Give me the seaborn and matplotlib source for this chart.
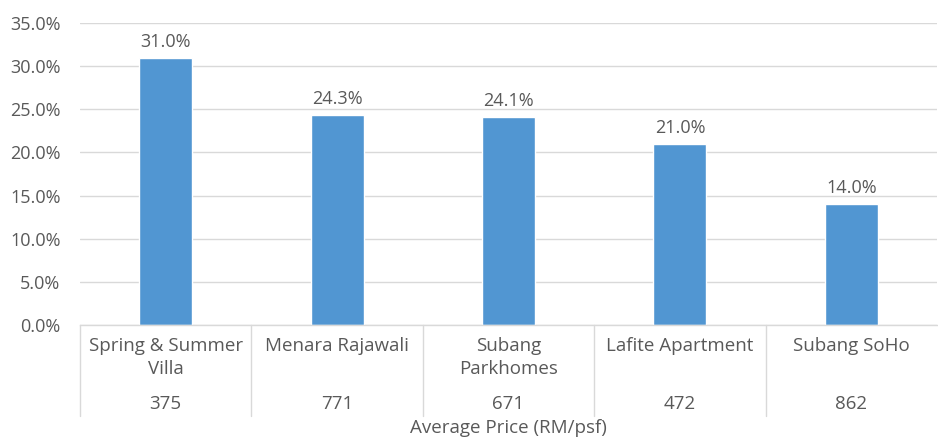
import matplotlib
matplotlib.use("Agg")
import matplotlib.pyplot as plt
import matplotlib.transforms as mtransforms
from matplotlib.ticker import FuncFormatter, MultipleLocator
import pandas as pd
import seaborn as sns

# --------------------------------------------------------------------------- #
# Data
# --------------------------------------------------------------------------- #
projects = ["Spring & Summer\nVilla", "Menara Rajawali", "Subang\nParkhomes",
            "Lafite Apartment", "Subang SoHo"]
prices = ["375", "771", "671", "472", "862"]
share_pct = [31.0, 24.3, 24.1, 21.0, 14.0]

BAR = "#5196D2"
TEXT = "#595959"
GRID = "#D9D9D9"

sns.set_theme(style="white")
plt.rcParams["font.family"] = ["Open Sans", "DejaVu Sans"]

df = pd.DataFrame({"project": projects, "share": share_pct})

fig = plt.figure(figsize=(9.38, 4.43), dpi=100)
ax = fig.add_axes([80 / 938, 118 / 443, 857 / 938, 302 / 443])

sns.barplot(data=df, x="project", y="share", color=BAR, width=0.31,
            saturation=1, ax=ax)

ax.set_ylim(0, 35)
ax.set_xlim(-0.5, len(projects) - 0.5)
ax.yaxis.set_major_locator(MultipleLocator(5))
ax.yaxis.set_major_formatter(FuncFormatter(lambda v, _: f"{v:.1f}%"))
ax.tick_params(axis="y", length=0, pad=14, labelsize=13, labelcolor=TEXT)
ax.set_xticks([])
ax.set_xlabel("")
ax.set_ylabel("")
ax.grid(axis="y", color=GRID, linewidth=1)
ax.set_axisbelow(True)
for s in ["top", "right", "left"]:
    ax.spines[s].set_visible(False)
ax.spines["bottom"].set_color(GRID)
ax.spines["bottom"].set_linewidth(1)

# value labels
for c in ax.containers:
    ax.bar_label(c, labels=[f"{v:.1f}%" for v in share_pct], padding=5,
                 fontsize=13, color=TEXT)

# multi-level category axis
trans = mtransforms.blended_transform_factory(ax.transData, ax.transAxes)
px = 1 / 302  # one pixel in axes-y units
for i, (name, price) in enumerate(zip(projects, prices)):
    ax.text(i, -12 * px, name, transform=trans, ha="center", va="top",
            fontsize=13.5, color=TEXT, linespacing=1.35)
    ax.text(i, -79 * px, price, transform=trans, ha="center", va="center",
            fontsize=13.5, color=TEXT)
for b in range(len(projects)):
    xb = b - 0.5
    ax.plot([xb, xb], [0, -91 * px], transform=trans, color=GRID,
            linewidth=1, clip_on=False)

ax.text(0.5, -103 * px, "Average Price (RM/psf)", transform=ax.transAxes,
        ha="center", va="center", fontsize=13.5, color=TEXT)

fig.savefig("out.png", dpi=100)
